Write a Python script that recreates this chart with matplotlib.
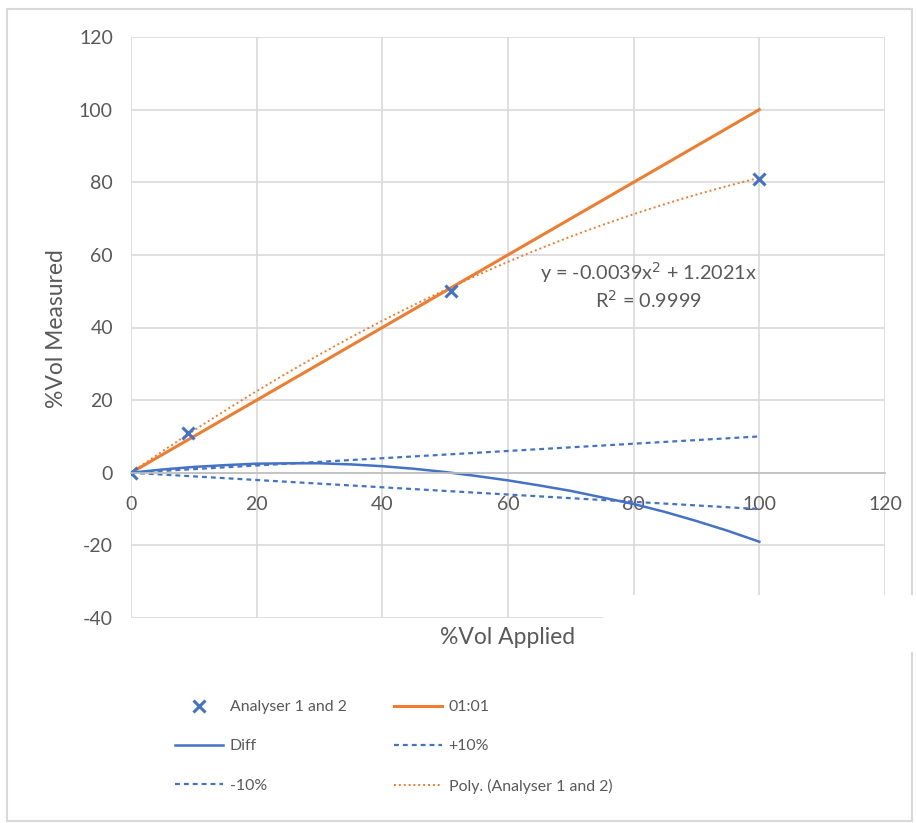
import numpy as np
import matplotlib
matplotlib.use("Agg")
import matplotlib.pyplot as plt
from matplotlib.patches import Rectangle

plt.rcParams['font.family'] = ['Lato', 'DejaVu Sans']
plt.rcParams['axes.unicode_minus'] = False

# Data
analyser_x = [0, 9, 51, 100]
analyser_y = [0, 11, 50, 81]
one_to_one_x = [0, 100]
one_to_one_y = [0, 100]
plus10_x = [0, 100]
plus10_y = [0, 10]
minus10_x = [0, 100]
minus10_y = [0, -10]
diff_x = [0, 5, 10, 15, 20, 25, 30, 35, 40, 45, 50, 55, 60, 65, 70, 75, 80, 85, 90, 95, 100]
diff_y = [0, 0.9, 1.6, 2.1, 2.5, 2.6, 2.6, 2.3, 1.8, 1.1, 0.2, -0.9, -2.1, -3.5, -5.0,
          -6.8, -8.6, -10.8, -13.3, -16.0, -19.0]
poly_coef = [-0.0039, 1.2021, 0.0]   # trendline equation shown on chart
eq_text = "y = -0.0039x$^2$ + 1.2021x\nR$^2$ = 0.9999"
xticks = [0, 20, 40, 60, 80, 100, 120]
yticks = [-40, -20, 0, 20, 40, 60, 80, 100, 120]

BLUE = '#4472C4'
ORANGE = '#ED7D31'
TXT = '#595959'
GRID = '#D9D9D9'

W, H = 916, 823
fig = plt.figure(figsize=(W/100, H/100), dpi=100)
ax = fig.add_axes([131/W, 1-618/H, (885-131)/W, (618-37)/H])

ax.set_xlim(0, 120)
ax.set_ylim(-40, 120)
ax.set_xticks(xticks)
ax.set_yticks(yticks)
ax.grid(True, color=GRID, lw=1.2)
ax.set_axisbelow(True)
for s in ['top', 'right', 'left']:
    ax.spines[s].set_visible(False)
ax.spines['bottom'].set_position(('data', 0))
ax.spines['bottom'].set_color('#BFBFBF')
ax.spines['bottom'].set_linewidth(1.2)
ax.tick_params(axis='both', length=0, labelsize=14, labelcolor=TXT)
ax.tick_params(axis='x', pad=17)
ax.tick_params(axis='y', pad=13)

px = np.linspace(0, 100, 200)
h_oo, = ax.plot(one_to_one_x, one_to_one_y, color=ORANGE, lw=2.2, label='01:01')
h_poly, = ax.plot(px, np.polyval(poly_coef, px), color=ORANGE, lw=1.4, ls=(0, (1, 1.5)),
                  label='Poly. (Analyser 1 and 2)')
h_diff, = ax.plot(diff_x, diff_y, color=BLUE, lw=1.8, label='Diff')
h_p10, = ax.plot(plus10_x, plus10_y, color=BLUE, lw=1.6, ls=(0, (2.2, 1.8)), label='+10%')
h_m10, = ax.plot(minus10_x, minus10_y, color=BLUE, lw=1.6, ls=(0, (2.2, 1.8)), label='-10%')
h_an, = ax.plot(analyser_x, analyser_y, ls='none', marker='x', ms=9, mew=2.2,
                color=BLUE, label='Analyser 1 and 2')

ax.text(82.3, 51.6, eq_text, ha='center', va='center', fontsize=14.3, color=TXT,
        linespacing=1.25)

fig.text(57/W, 1-329/H, '%Vol Measured', rotation=90, ha='center', va='center',
         fontsize=16.5, color=TXT)
fig.text(508/W, 1-638/H, '%Vol Applied', ha='center', va='center',
         fontsize=16.5, color=TXT)

handles = [h_an, h_diff, h_m10, h_oo, h_p10, h_poly]
leg = fig.legend(handles=handles, labels=[h.get_label() for h in handles], ncol=2,
                 loc='upper left', bbox_to_anchor=(175/W, 1-700/H), frameon=False,
                 borderpad=0, borderaxespad=0,
                 fontsize=11.4, labelcolor=TXT, handlelength=3.0, handletextpad=0.45,
                 columnspacing=3.0, labelspacing=1.6)

# outer chart frame
fig.patches.append(Rectangle((7/W, 1-821/H), (912-7)/W, (821-9)/H, transform=fig.transFigure,
                             fill=False, ec='#D9D9D9', lw=1.5))
# white patch at lower right
fig.patches.append(Rectangle((603/W, 1-652/H), (W-603)/W, (652-595)/H, transform=fig.transFigure,
                             fc='white', ec='none', zorder=10))

fig.savefig('out.png', dpi=100)
